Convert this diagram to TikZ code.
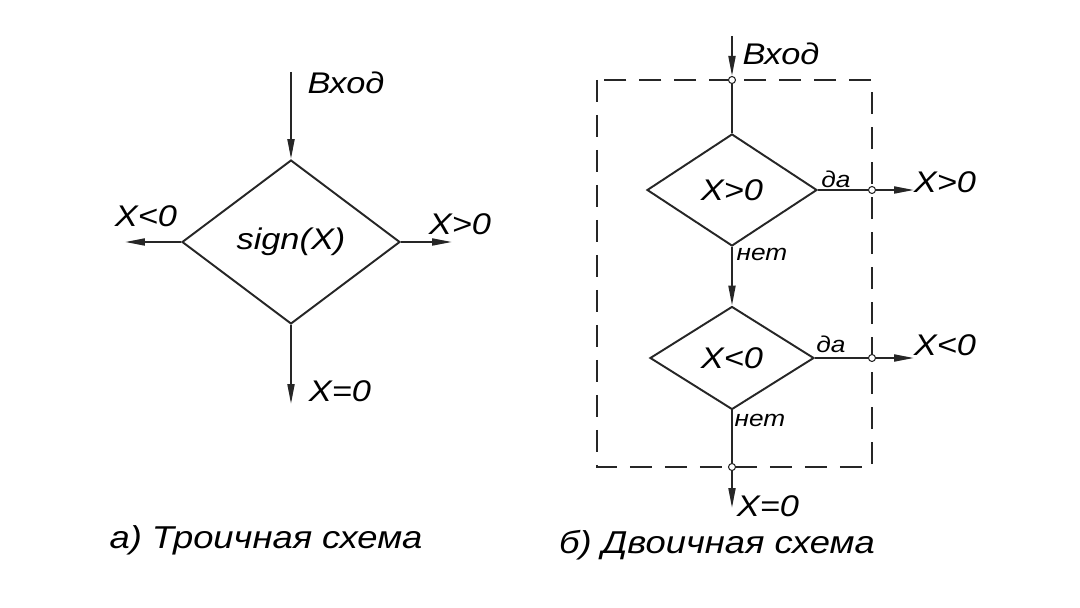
\documentclass[tikz,border=0pt]{standalone}
\usepackage{fontspec}
\setmainfont{Liberation Sans}[FakeStretch=1.15]
\usetikzlibrary{arrows.meta,shapes.geometric,positioning}

\tikzset{
  flow/.style={line width=1.1pt, black!85},
  arr/.style={flow, -{Triangle[length=4mm,width=1.4mm]}},
  cond/.style={draw, diamond, flow, text=black, inner sep=0pt, font=\itshape\fontsize{17}{20}\selectfont},
  junc/.style={draw, circle, black!85, line width=0.6pt, fill=white, inner sep=0pt, minimum size=1.4mm},
  lbl/.style={font=\itshape\fontsize{17}{20}\selectfont, inner sep=0pt},
  tag/.style={font=\itshape\fontsize{13}{15}\selectfont, inner sep=0pt},
  capt/.style={font=\itshape\fontsize{18}{22}\selectfont, inner sep=0pt},
  frame/.style={flow, dash pattern=on 4.5mm off 2.5mm}
}

\begin{document}
\begin{tikzpicture}[x=0.02cm, y=-0.02cm]
\useasboundingbox (0,0) rectangle (1080,608);
% a) ternary scheme
\node[cond, minimum width=4.36cm, minimum height=3.28cm] (sg) at (291,242) {sign(X)};
\coordinate (a-in) at (291,72);
\coordinate (a-lt) at (125,242);
\coordinate (a-gt) at (452,242);
\coordinate (a-eq) at (291,404);
\draw[arr] (a-in) -- (sg.north);
\draw[arr] (sg.west) -- (a-lt);
\draw[arr] (sg.east) -- (a-gt);
\draw[arr] (sg.south) -- (a-eq);
\node[lbl] (a-in-t) at (346,83) {Вход};
\node[lbl] (a-lt-t) at (146,216) {X<0};
\node[lbl] (a-gt-t) at (460,224) {X>0};
\node[lbl] (a-eq-t) at (340,391) {X=0};
\node[capt] (a-cap) at (266,540) {а) Троичная схема};
% b) binary scheme
\draw[frame] (597,80) rectangle (872,467);
\node[cond, minimum width=3.4cm, minimum height=2.24cm] (d1) at (732,190) {X>0};
\node[cond, minimum width=3.28cm, minimum height=2.06cm] (d2) at (732,358) {X<0};
\node[junc] (jt) at (732,80) {};
\node[junc] (jy1) at (872,190) {};
\node[junc] (jy2) at (872,358) {};
\node[junc] (jn) at (732,467) {};
\coordinate (b-in) at (732,36);
\coordinate (b-gt) at (914,190);
\coordinate (b-lt) at (914,358);
\coordinate (b-eq) at (732,508);
\draw[arr] (b-in) -- (jt);
\draw[flow] (jt) -- (d1.north);
\draw[flow] (d1.east) -- (jy1);
\draw[arr] (jy1) -- (b-gt);
\draw[arr] (d1.south) -- (d2.north);
\draw[flow] (d2.east) -- (jy2);
\draw[arr] (jy2) -- (b-lt);
\draw[flow] (d2.south) -- (jn);
\draw[arr] (jn) -- (b-eq);
\node[lbl] (b-in-t) at (781,54) {Вход};
\node[tag] (y1) at (836,179) {да};
\node[tag] (n1) at (762,254) {нет};
\node[tag] (y2) at (831,344) {да};
\node[tag] (n2) at (760,420) {нет};
\node[lbl] (b-gt-t) at (945,182) {X>0};
\node[lbl] (b-lt-t) at (945,345) {X<0};
\node[lbl] (b-eq-t) at (768,506) {X=0};
\node[capt] (b-cap) at (717,545) {б) Двоичная схема};
\end{tikzpicture}
\end{document}
